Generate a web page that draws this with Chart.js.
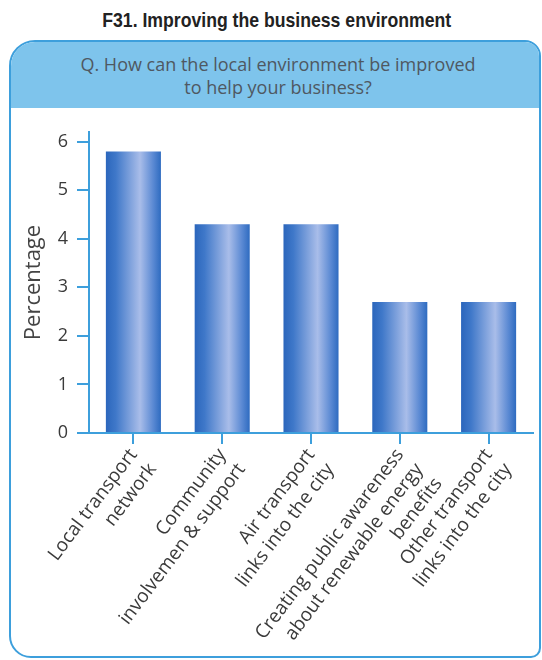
<!DOCTYPE html>
<html>
<head>
<meta charset="utf-8">
<script src="https://cdn.jsdelivr.net/npm/chart.js@4/dist/chart.umd.min.js"></script>
<style>
  html, body { margin: 0; padding: 0; background: #fff; }
  #page { position: relative; width: 542px; height: 660px; overflow: hidden; }
  #title {
    position: absolute; top: 8px; left: 6px; width: 542px; margin: 0; text-align: center;
  }
  #title span {
    display: inline-block; transform: scaleX(0.84); transform-origin: center;
    font: bold 21px "Liberation Sans", sans-serif; color: #222; white-space: nowrap;
  }
  #panel {
    position: absolute; left: 9px; top: 40px; width: 532px; height: 618px;
    box-sizing: border-box; border: 2px solid #3d9fdc;
    border-radius: 26px 16px 10px 22px; overflow: hidden; background: #fff;
  }
  #question {
    height: 66px; background: #7ec4ec; box-sizing: border-box; padding: 11px 0 0 6px;
    text-align: center; font: 18px/23px "Open Sans", sans-serif; color: #4f5862;
  }
  #chart { position: absolute; left: 0; top: 0; }
</style>
</head>
<body>
<div id="page">
  <div id="title"><span>F31. Improving the business environment</span></div>
  <div id="panel">
    <div id="question">Q. How can the local environment be improved<br>to help your business?</div>
  </div>
  <canvas id="chart" width="542" height="660"></canvas>
</div>
<script>
// Answer categories (multi-line labels) and their share of responses
const categories = [
  ["Local transport", "network"],
  ["Community", "involvemen & support"],
  ["Air transport", "links into the city"],
  ["Creating public awareness", "about renewable energy", "benefits"],
  ["Other transport", "links into the city"]
];
const percentages = [5.8, 4.3, 4.3, 2.7, 2.7];
const yTickValues = [0, 1, 2, 3, 4, 5, 6];

const axisBlue = '#3d9fdc';
const textGrey = '#3a3a3a';

// Shade each bar with a horizontal cylinder-like gradient
const barShade = {
  id: 'barShade',
  beforeDatasetsDraw(chart) {
    const ctx = chart.ctx;
    chart.getDatasetMeta(0).data.forEach(bar => {
      const x0 = bar.x - bar.width / 2, x1 = bar.x + bar.width / 2;
      const g = ctx.createLinearGradient(x0, 0, x1, 0);
      g.addColorStop(0, '#2b66bc');
      g.addColorStop(0.18, '#3f78c9');
      g.addColorStop(0.62, '#a9bde9');
      g.addColorStop(0.86, '#5a89d3');
      g.addColorStop(1, '#2e6bc0');
      bar.options = Object.assign({}, bar.options, { backgroundColor: g });
    });
  }
};

new Chart(document.getElementById('chart'), {
  type: 'bar',
  data: {
    labels: categories,
    datasets: [{
      data: percentages,
      backgroundColor: '#4a7fcc',
      borderWidth: 0,
      barPercentage: 0.62,
      categoryPercentage: 1
    }]
  },
  options: {
    responsive: false,
    devicePixelRatio: 1,
    animation: false,
    layout: { padding: { left: 20, right: 9, top: 132, bottom: 0 } },
    plugins: { legend: { display: false }, tooltip: { enabled: false } },
    scales: {
      x: {
        afterFit(scale) { scale.height = 227; },
        grid: { offset: false, drawOnChartArea: false, tickLength: 11, color: axisBlue, lineWidth: 2 },
        border: { color: axisBlue, width: 2 },
        ticks: {
          autoSkip: false, minRotation: 53, maxRotation: 53, padding: 0,
          color: textGrey, font: { family: 'Open Sans', size: 19, lineHeight: 1.27 }
        }
      },
      y: {
        min: 0, max: 6.2,
        afterFit(scale) { scale.width = 69; },
        afterBuildTicks(scale) { scale.ticks = yTickValues.map(v => ({ value: v })); },
        grid: { drawOnChartArea: false, tickLength: 12, color: axisBlue, lineWidth: 2 },
        border: { color: axisBlue, width: 2 },
        ticks: {
          padding: 9, color: textGrey,
          font: { family: 'Open Sans', size: 18 }
        },
        title: {
          display: true, text: 'Percentage', color: '#444', padding: 1,
          font: { family: 'Open Sans', size: 22 }
        }
      }
    }
  },
  plugins: [barShade]
});
</script>
</body>
</html>
